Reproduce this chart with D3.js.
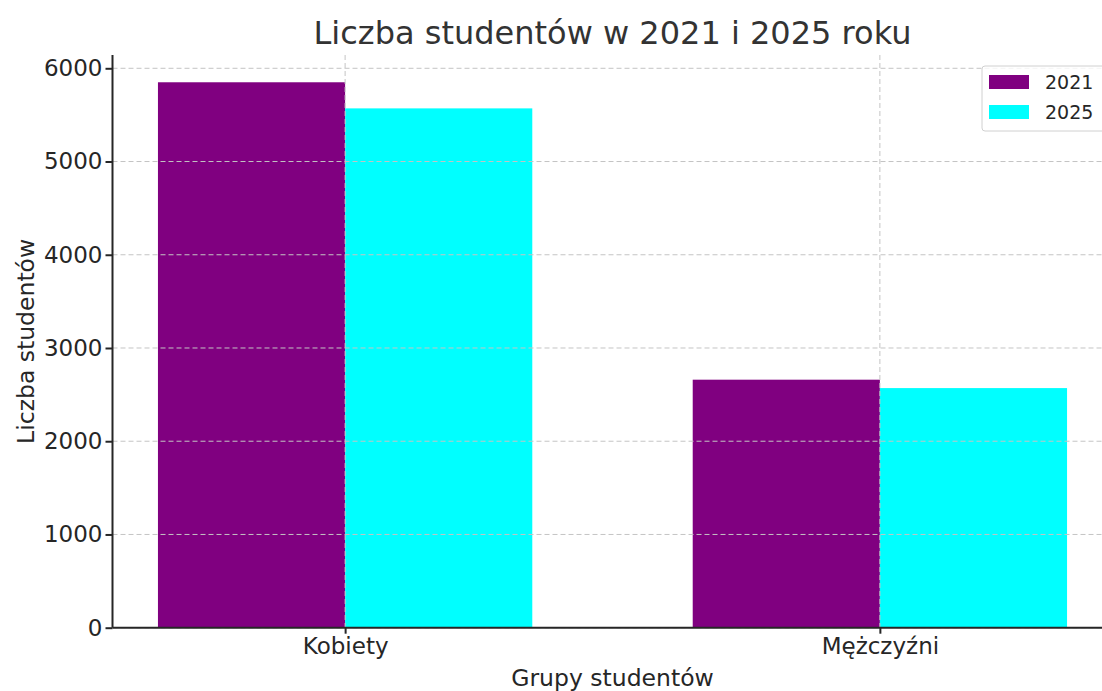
<!DOCTYPE html>
<html>
<head>
<meta charset="utf-8">
<script src="https://cdn.jsdelivr.net/npm/d3@7"></script>
<style>
  body { margin: 0; background: #fff; }
  svg { display: block; font-family: "DejaVu Sans", sans-serif; }
  .grid line { stroke: #c4c4c4; stroke-width: 1; stroke-dasharray: 5,3; }
  .axis path, .axis line { stroke: #262626; stroke-width: 2; }
</style>
</head>
<body>
<svg id="chart" width="1102" height="691"></svg>
<script>
// Data
const categories = ["Kobiety", "Mężczyźni"];
const years = ["2021", "2025"];
const values2021 = [5850, 2660];
const values2025 = [5570, 2570];
const colors = ["#800080", "#00ffff"];
const yTicks = [0, 1000, 2000, 3000, 4000, 5000, 6000];

const series = [values2021, values2025];
const barW = 0.35;

const svg = d3.select("#chart");
const plot = {left: 112.5, right: 1112.5, top: 55, bottom: 627.7};

// matplotlib-like limits: 5% x margin, 5% y headroom
let xLo = -barW, xHi = categories.length - 1 + barW;
let pad = (xHi - xLo) * 0.05;
const x = d3.scaleLinear().domain([xLo - pad, xHi + pad]).range([plot.left, plot.right]);
const y = d3.scaleLinear()
    .domain([0, d3.max(series.flat()) * 1.05])
    .range([plot.bottom, plot.top]);

// bars
series.forEach(function(vals, s) {
  svg.append("g").selectAll("rect")
      .data(vals).enter()
      .append("rect")
          .attr("x", (d, i) => x(i + (s - 1) * barW))
          .attr("width", x(barW) - x(0))
          .attr("y", d => y(d))
          .attr("height", d => y(0) - y(d))
          .attr("fill", colors[s]);
});

// grid on top of bars (as in the source)
const grid = svg.append("g").attr("class", "grid");
grid.selectAll(".gy")
    .data(yTicks).enter()
    .append("line")
        .attr("x1", plot.left).attr("x2", plot.right)
        .attr("y1", d => y(d)).attr("y2", d => y(d));
grid.selectAll(".gx")
    .data(categories).enter()
    .append("line")
        .attr("x1", (d, i) => x(i)).attr("x2", (d, i) => x(i))
        .attr("y1", plot.top).attr("y2", plot.bottom);

// axes
function styleText(g) {
  g.attr("font-family", null).attr("font-size", null);
  g.selectAll("text").attr("fill", "#262626").style("font-size", "23px");
}
const yAxis = d3.axisLeft(y).tickValues(yTicks).tickSize(7).tickPadding(3).tickFormat(d3.format("d"));
svg.append("g").attr("class", "axis")
    .attr("transform", "translate(" + plot.left + ",0)")
    .call(yAxis)
    .call(styleText)
    .call(g => g.select(".domain").attr("d", "M0," + plot.top + "V" + plot.bottom));

const xAxis = d3.axisBottom(x).tickValues(categories.map((c, i) => i)).tickSize(6).tickPadding(4)
    .tickFormat(i => categories[i]);
svg.append("g").attr("class", "axis")
    .attr("transform", "translate(0," + plot.bottom + ")")
    .call(xAxis)
    .call(styleText)
    .call(g => g.selectAll(".tick text").attr("dy", null).attr("y", 26))
    .call(g => g.select(".domain").attr("d", "M" + plot.left + ",0H" + plot.right));

// labels
svg.append("text")
    .attr("x", (plot.left + plot.right) / 2).attr("y", 44)
    .attr("text-anchor", "middle")
    .attr("fill", "#333").style("font-size", "32px")
    .text("Liczba studentów w 2021 i 2025 roku");
svg.append("text")
    .attr("x", (plot.left + plot.right) / 2).attr("y", 686)
    .attr("text-anchor", "middle")
    .attr("fill", "#262626").style("font-size", "23.5px")
    .text("Grupy studentów");
svg.append("text")
    .attr("transform", "translate(34," + (plot.top + plot.bottom) / 2 + ") rotate(-90)")
    .attr("text-anchor", "middle")
    .attr("fill", "#262626").style("font-size", "23.5px")
    .text("Liczba studentów");

// legend
const legend = svg.append("g").attr("transform", "translate(982,66)");
legend.append("rect")
    .attr("width", 140).attr("height", 65).attr("rx", 3)
    .attr("fill", "#fff").attr("fill-opacity", 0.8)
    .attr("stroke", "#d0d0d0").attr("stroke-width", 1);
years.forEach(function(yr, s) {
  legend.append("rect")
      .attr("x", 7).attr("y", 9 + s * 30)
      .attr("width", 40).attr("height", 14)
      .attr("fill", colors[s]);
  legend.append("text")
      .attr("x", 63).attr("y", 23 + s * 30)
      .attr("fill", "#262626").style("font-size", "19px")
      .text(yr);
});
</script>
</body>
</html>
